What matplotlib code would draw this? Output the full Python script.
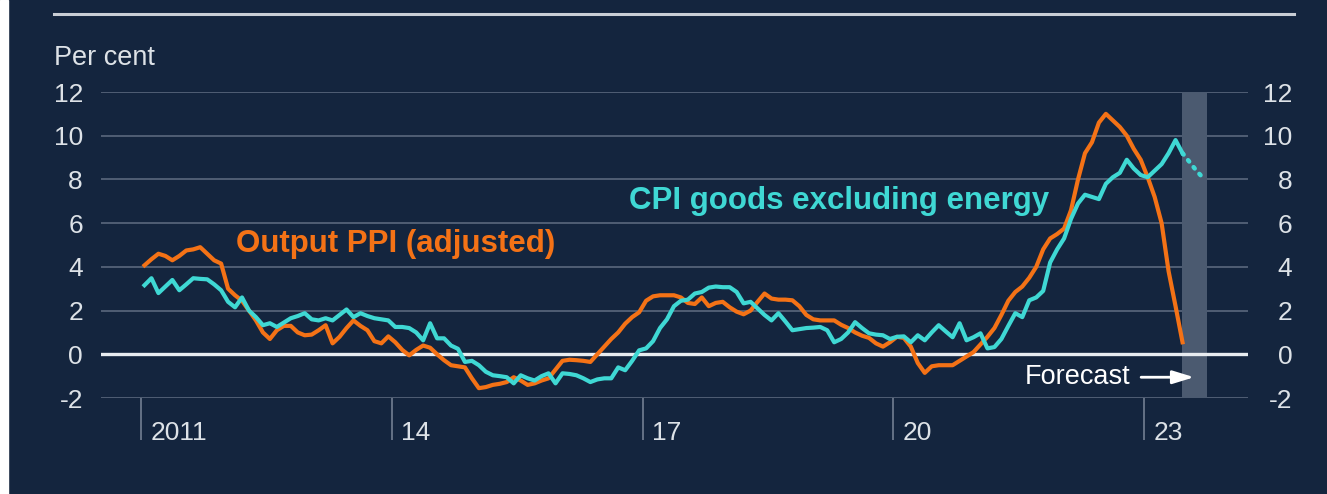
import numpy as np
import matplotlib
matplotlib.use("Agg")
from matplotlib import pyplot as plt
from matplotlib.lines import Line2D
from matplotlib.patches import Rectangle

# monthly values, Jan 2011 onwards
ppi = [4.07, 4.35, 4.6, 4.5, 4.3, 4.5, 4.75, 4.8, 4.9, 4.6, 4.3, 4.15,
       3.0, 2.7, 2.45, 2.0, 1.55, 1.0, 0.7, 1.1, 1.3, 1.3, 1.0, 0.87,
       0.9, 1.1, 1.33, 0.5, 0.8, 1.2, 1.55, 1.3, 1.1, 0.6, 0.5, 0.82,
       0.55, 0.2, -0.05, 0.2, 0.4, 0.3, 0.0, -0.27, -0.5, -0.55, -0.6, -1.1,
       -1.55, -1.5, -1.4, -1.35, -1.27, -1.05, -1.2, -1.4, -1.33, -1.2, -1.1, -0.7,
       -0.3, -0.25, -0.27, -0.3, -0.35, 0.0, 0.35, 0.7, 1.0, 1.4, 1.7, 1.92,
       2.45, 2.65, 2.7, 2.7, 2.7, 2.6, 2.35, 2.3, 2.6, 2.2, 2.35, 2.4,
       2.15, 1.95, 1.83, 2.0, 2.4, 2.78, 2.55, 2.5, 2.5, 2.47, 2.2, 1.8,
       1.6, 1.55, 1.55, 1.55, 1.35, 1.2, 1.0, 0.85, 0.75, 0.5, 0.35, 0.55,
       0.8, 0.75, 0.35, -0.4, -0.85, -0.55, -0.5, -0.5, -0.5, -0.3, -0.1, 0.1,
       0.45, 0.8, 1.2, 1.8, 2.45, 2.85, 3.1, 3.5, 4.0, 4.8, 5.3, 5.5,
       5.75, 6.6, 8.0, 9.2, 9.7, 10.6, 11.0, 10.7, 10.4, 10.0, 9.4, 8.9,
       8.1, 7.2, 6.0, 3.8, 2.2, 0.55]

cpi = [3.16, 3.48, 2.8, 3.1, 3.4, 2.93, 3.2, 3.48, 3.45, 3.43, 3.2, 2.93,
       2.4, 2.15, 2.6, 2.0, 1.7, 1.33, 1.42, 1.25, 1.45, 1.65, 1.75, 1.88,
       1.6, 1.55, 1.65, 1.55, 1.8, 2.05, 1.7, 1.88, 1.75, 1.65, 1.6, 1.55,
       1.25, 1.25, 1.2, 1.0, 0.64, 1.42, 0.73, 0.73, 0.4, 0.25, -0.35, -0.3,
       -0.5, -0.8, -0.96, -1.0, -1.05, -1.33, -0.96, -1.1, -1.2, -1.0, -0.87, -1.33,
       -0.87, -0.9, -0.96, -1.1, -1.27, -1.15, -1.1, -1.1, -0.6, -0.73, -0.3, 0.18,
       0.27, 0.6, 1.2, 1.6, 2.2, 2.45, 2.5, 2.78, 2.85, 3.05, 3.1, 3.07,
       3.07, 2.85, 2.33, 2.4, 2.1, 1.8, 1.55, 1.88, 1.5, 1.1, 1.15, 1.2,
       1.22, 1.25, 1.1, 0.55, 0.7, 1.0, 1.47, 1.2, 0.96, 0.9, 0.87, 0.7,
       0.8, 0.82, 0.55, 0.87, 0.64, 1.0, 1.33, 1.05, 0.78, 1.42, 0.64, 0.78,
       0.96, 0.27, 0.33, 0.7, 1.3, 1.88, 1.7, 2.47, 2.6, 2.9, 4.2, 4.8,
       5.3, 6.2, 6.9, 7.3, 7.2, 7.1, 7.8, 8.1, 8.3, 8.9, 8.5, 8.2,
       8.1, 8.4, 8.7, 9.2, 9.8, 9.2]

# CPI forecast, Jun-Sep 2023
cpi_fc = [9.2, 8.8, 8.4, 8.05]

x_ticks = [2011, 2014, 2017, 2020, 2023]
x_labels = ["2011", "14", "17", "20", "23"]
y_ticks = [-2, 0, 2, 4, 6, 8, 10, 12]
y_labels = ["-2", "0", "2", "4", "6", "8", "10", "12"]

BG = "#14253e"
ORANGE = "#f47216"
CYAN = "#3fd8d4"
TXT = "#dde2e7"
GRID = "#5a687d"

plt.rcParams["font.family"] = ["Liberation Sans", "DejaVu Sans"]

t = 2011 + (np.arange(len(ppi)) + 0.5) / 12
t_fc = 2011 + (np.arange(len(cpi) - 1, len(cpi) - 1 + len(cpi_fc)) + 0.5) / 12

W, H = 1327, 494
fig = plt.figure(figsize=(W / 100, H / 100), dpi=100, facecolor=BG)
fig.add_artist(Rectangle((0, 0), 8 / W, 1, transform=fig.transFigure, color="white", zorder=10))
fig.add_artist(Line2D([54 / W, 1294 / W], [1 - 14 / H, 1 - 14 / H], transform=fig.transFigure,
                      color="#c9ced5", lw=2.2))

ax = fig.add_axes([101 / W, 1 - 398 / H, (1248 - 101) / W, (398 - 92) / H])
ax.set_facecolor(BG)
ax.set_xlim(2011 - 40 / 83.6, 2011 + (1248 - 141) / 83.6)
ax.set_ylim(-2, 12)
for s in ax.spines.values():
    s.set_visible(False)

for v in y_ticks:
    if v == 0:
        ax.axhline(v, color="#e8ecf0", lw=2.4, zorder=2)
    else:
        ax.axhline(v, color=GRID, lw=1.2, zorder=1)

ax.axvspan(2023.45, 2023.75, color="#4b5a70", zorder=1.5, lw=0)

ax.plot(t, ppi, color=ORANGE, lw=3, zorder=4, solid_joinstyle="round")
ax.plot(t, cpi, color=CYAN, lw=3, zorder=5, solid_joinstyle="round")
ax.plot(t_fc, cpi_fc, color=CYAN, lw=3.2, zorder=5, linestyle=(0, (0.4, 1.6)),
        dash_capstyle="round")

# axes ticks
ax.set_xticks(x_ticks)
ax.set_xticklabels([])
ax.tick_params(axis="x", direction="out", length=30, width=1.1, color="#7a8699")
for xv, lab in zip(x_ticks, x_labels):
    ax.text(xv + 0.11, -0.113, lab, transform=ax.get_xaxis_transform(),
            color=TXT, fontsize=19, ha="left", va="center")

ax.set_yticks(y_ticks)
ax.set_yticklabels(y_labels, color=TXT, fontsize=19)
ax.tick_params(axis="y", length=0, pad=13)
ax2 = ax.twinx()
ax2.set_ylim(ax.get_ylim())
for s in ax2.spines.values():
    s.set_visible(False)
ax2.set_yticks(y_ticks)
ax2.set_yticklabels(y_labels, color=TXT, fontsize=19, ha="right")
ax2.tick_params(axis="y", length=0, pad=32)

# annotations
ax.text(2012.14, 5.03, "Output PPI (adjusted)", color=ORANGE, fontsize=22.5,
        fontweight="bold", ha="left", va="center", zorder=6)
ax.text(2016.84, 7.0, "CPI goods excluding energy", color=CYAN, fontsize=22.5,
        fontweight="bold", ha="left", va="center", zorder=6)
ax.text(2022.83, -1.05, "Forecast", color="white", fontsize=19.5, ha="right",
        va="center", zorder=6)
ax.annotate("", xy=(2023.63, -1.05), xytext=(2022.93, -1.05),
            arrowprops=dict(arrowstyle="-|>,head_length=1.3,head_width=0.4",
                            color="white", lw=2), zorder=6)

fig.text(54 / W, 1 - 58 / H, "Per cent", color=TXT, fontsize=19.5, ha="left", va="center")

fig.savefig("out.png", dpi=100, facecolor=BG)
